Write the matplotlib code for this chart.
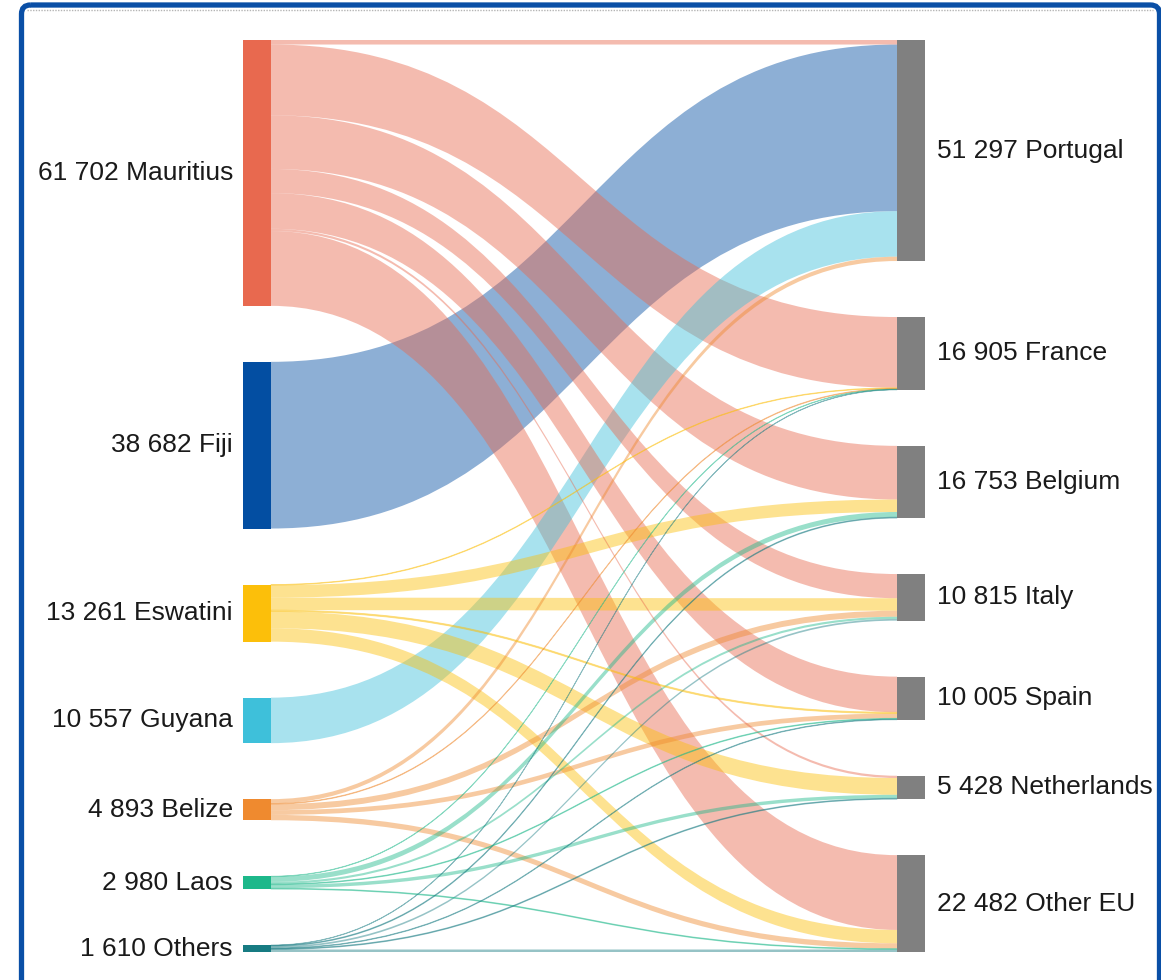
import matplotlib
matplotlib.use("Agg")
import matplotlib.pyplot as plt
from matplotlib.path import Path
from matplotlib.patches import PathPatch, Rectangle, FancyBboxPatch
from matplotlib.colors import to_rgba

plt.rcParams['font.family'] = ['Liberation Sans', 'DejaVu Sans']

# ------------------------ Data ------------------------
SOURCES = ["Mauritius", "Fiji", "Eswatini", "Guyana", "Belize", "Laos", "Others"]
TARGETS = ["Portugal", "France", "Belgium", "Italy", "Spain", "Netherlands", "Other EU"]

# flows per source, in TARGETS order
MAURITIUS = [1050, 16425, 12453, 5615, 8275, 528, 17356]
FIJI = [38682, 0, 0, 0, 0, 0, 0]
ESWATINI = [0, 150, 2900, 2900, 300, 3900, 3111]
GUYANA = [10557, 0, 0, 0, 0, 0, 0]
BELIZE = [1008, 150, 0, 1400, 1100, 0, 1235]
LAOS = [0, 100, 1200, 500, 180, 800, 200]
OTHERS = [0, 80, 200, 400, 150, 200, 580]
FLOWS = [MAURITIUS, FIJI, ESWATINI, GUYANA, BELIZE, LAOS, OTHERS]

SOURCE_COLORS = ["#e8694f", "#034ea2", "#fcbf0a", "#3ec0da", "#ef8a2f", "#1db88a", "#177b82"]
TARGET_COLOR = "#808080"
LINK_ALPHA = 0.45

# ------------------------ Layout ------------------------
W, H = 1161, 980
LEFT_X, RIGHT_X, NODE_W = 243, 897, 28
TOP, BOTTOM = 40, 952
GAP = 56


def fmt(v):
    return f"{v:,}".replace(",", " ")


src_vals = [sum(row) for row in FLOWS]
tgt_vals = [sum(FLOWS[i][j] for i in range(len(SOURCES))) for j in range(len(TARGETS))]
total = sum(src_vals)
scale = (BOTTOM - TOP - GAP * (len(SOURCES) - 1)) / total


def column_tops(values):
    gap = (BOTTOM - TOP - sum(values) * scale) / (len(values) - 1)
    tops, y = [], TOP
    for v in values:
        tops.append(y)
        y += v * scale + gap
    return tops


src_tops = column_tops(src_vals)
tgt_tops = column_tops(tgt_vals)

fig = plt.figure(figsize=(W / 100, H / 100), dpi=100)
ax = fig.add_axes([0, 0, 1, 1])
ax.set_xlim(0, W)
ax.set_ylim(H, 0)
ax.axis('off')

# ------------------------ Links ------------------------
links = []
src_off = list(src_tops)
tgt_off = list(tgt_tops)
for i in range(len(SOURCES)):
    for j in range(len(TARGETS)):
        v = FLOWS[i][j]
        if v <= 0:
            continue
        links.append((v, i, src_off[i], j, None))
        src_off[i] += v * scale
# target side stacked by source order
tgt_pos = {}
for j in range(len(TARGETS)):
    for i in range(len(SOURCES)):
        v = FLOWS[i][j]
        if v <= 0:
            continue
        tgt_pos[(i, j)] = tgt_off[j]
        tgt_off[j] += v * scale

x0 = LEFT_X + NODE_W
x1 = RIGHT_X
xm = (x0 + x1) / 2
for v, i, y0, j, _ in sorted(links, key=lambda l: -l[0]):
    h = v * scale
    y1 = tgt_pos[(i, j)]
    verts = [(x0, y0), (xm, y0), (xm, y1), (x1, y1),
             (x1, y1 + h), (xm, y1 + h), (xm, y0 + h), (x0, y0 + h), (x0, y0)]
    codes = [Path.MOVETO, Path.CURVE4, Path.CURVE4, Path.CURVE4,
             Path.LINETO, Path.CURVE4, Path.CURVE4, Path.CURVE4, Path.CLOSEPOLY]
    col = to_rgba(SOURCE_COLORS[i], LINK_ALPHA)
    lw = 0.6 if h < 1.5 else 0
    ax.add_patch(PathPatch(Path(verts, codes), facecolor=col, edgecolor=col, lw=lw))

# ------------------------ Nodes ------------------------
for i, name in enumerate(SOURCES):
    h = src_vals[i] * scale
    ax.add_patch(Rectangle((LEFT_X, src_tops[i]), NODE_W, h, facecolor=SOURCE_COLORS[i], lw=0))
    ax.text(LEFT_X - 10, src_tops[i] + h / 2, f"{fmt(src_vals[i])} {name}",
            ha='right', va='center', fontsize=19, color="#1a1a1a")

for j, name in enumerate(TARGETS):
    h = tgt_vals[j] * scale
    ax.add_patch(Rectangle((RIGHT_X, tgt_tops[j]), NODE_W, h, facecolor=TARGET_COLOR, lw=0))
    ax.text(RIGHT_X + NODE_W + 12, tgt_tops[j] + h / 2, f"{fmt(tgt_vals[j])} {name}",
            ha='left', va='center', fontsize=19, color="#1a1a1a")

# ------------------------ Frame ------------------------
ax.add_patch(FancyBboxPatch((21.5, 5), 1138, 1000, boxstyle="round,pad=0,rounding_size=9",
                            facecolor='none', edgecolor="#0a4fa6", lw=3.8, clip_on=False))
ax.plot([27, 1153], [10.5, 10.5], color="#b5b5b5", lw=1, linestyle=(0, (1, 1)))

fig.savefig("out.png", dpi=100)
